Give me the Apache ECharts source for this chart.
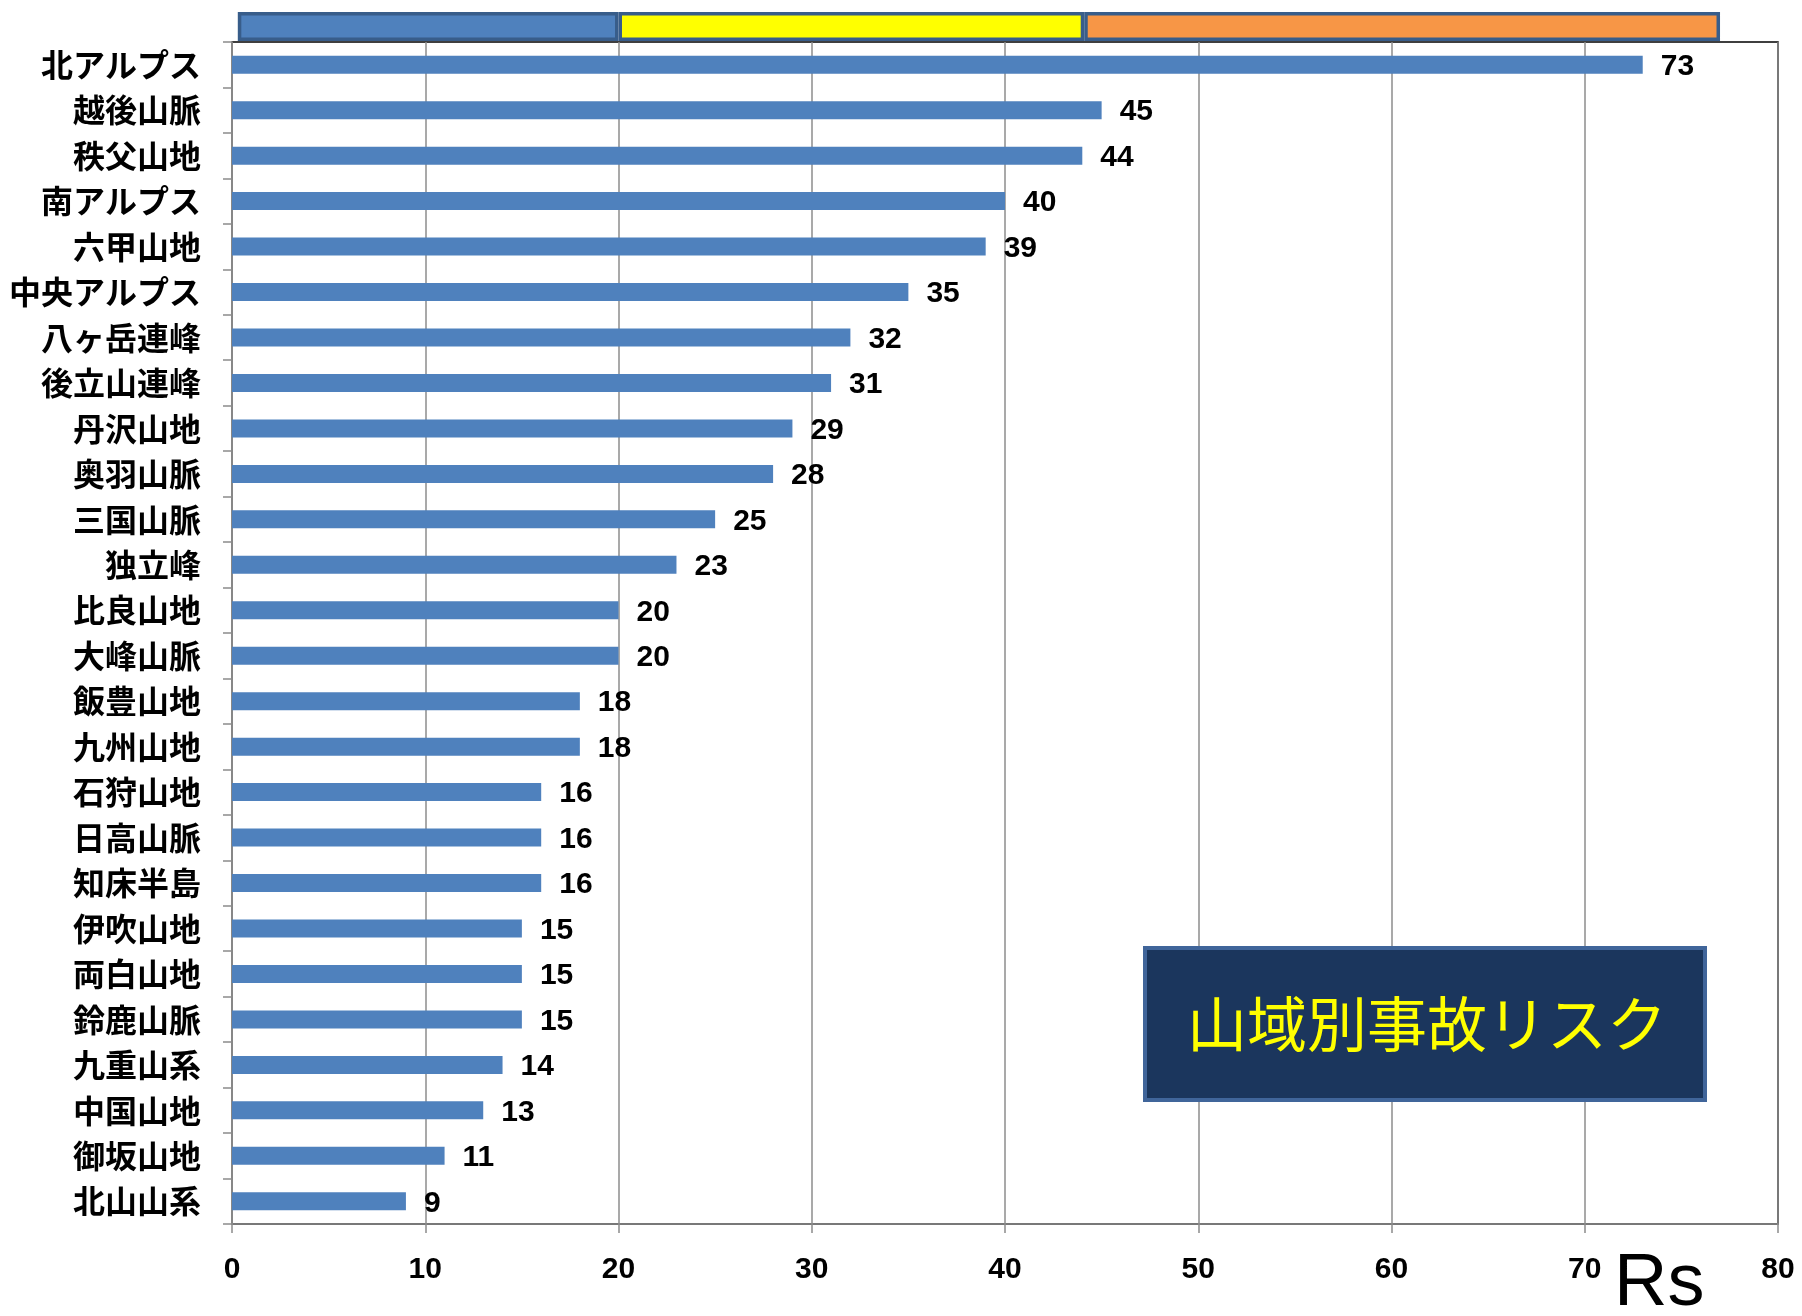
<!DOCTYPE html>
<html>
<head>
<meta charset="utf-8">
<title>山域別事故リスク</title>
<script src="https://cdn.jsdelivr.net/npm/echarts@6/dist/echarts.min.js"></script>
<style>
  html, body { margin: 0; padding: 0; background: #ffffff; }
  #chart { width: 1802px; height: 1316px; }
</style>
</head>
<body>
<div id="chart"></div>
<script>
// Mountain areas, top to bottom
const areas = [
  '北アルプス', '越後山脈', '秩父山地', '南アルプス', '六甲山地', '中央アルプス',
  '八ヶ岳連峰', '後立山連峰', '丹沢山地', '奥羽山脈', '三国山脈', '独立峰',
  '比良山地', '大峰山脈', '飯豊山地', '九州山地', '石狩山地', '日高山脈',
  '知床半島', '伊吹山地', '両白山地', '鈴鹿山脈', '九重山系', '中国山地',
  '御坂山地', '北山山系'
];
// Accident risk score (Rs) per area
const riskValues = [
  73, 45, 44, 40, 39, 35, 32, 31, 29, 28, 25, 23, 20,
  20, 18, 18, 16, 16, 16, 15, 15, 15, 14, 13, 11, 9
];
// Value axis ticks
const axisMin = 0;
const axisMax = 80;
const axisStep = 10;
// Risk band strip above the chart: edges on the Rs scale
const bandEdges = [0.3, 20, 44.1, 77];
const bandColors = ['#4f81bd', '#ffff00', '#f79646'];
const titleText = '山域別事故リスク';
const axisNameText = 'Rs';

const numFont = '"Liberation Sans Narrow", "Arial Narrow", "Liberation Sans", sans-serif';
const cjkFont = '"Noto Sans CJK JP", "Noto Sans CJK SC", sans-serif';

const chart = echarts.init(document.getElementById('chart'), null, { renderer: 'canvas' });

// Stacked strip segments built from the band edges
const bandSeries = [{
  type: 'bar', stack: 'band', xAxisIndex: 1, yAxisIndex: 1,
  data: [bandEdges[0]], barWidth: '100%', silent: true,
  itemStyle: { color: 'transparent' }
}];
for (let i = 0; i < bandColors.length; i++) {
  bandSeries.push({
    type: 'bar', stack: 'band', xAxisIndex: 1, yAxisIndex: 1,
    data: [+(bandEdges[i + 1] - bandEdges[i]).toFixed(3)],
    barWidth: '100%', silent: true,
    itemStyle: { color: bandColors[i], borderColor: '#385d8a', borderWidth: 3.5 }
  });
}

// Caption box geometry
const box = { x: 1145, y: 948, w: 560, h: 152 };

const option = {
  backgroundColor: '#ffffff',
  animation: false,
  grid: [
    { left: 232, right: 24, top: 42, bottom: 92, show: true, borderColor: '#000000', borderWidth: 1.5, backgroundColor: 'transparent' },
    { left: 232, right: 24, top: 12, height: 29 }
  ],
  title: {
    text: axisNameText,
    left: 1609, top: 1243,
    textStyle: { fontFamily: '"Liberation Sans", Arial, sans-serif', fontWeight: 'normal', fontSize: 74, color: '#000000' }
  },
  xAxis: [
    {
      type: 'value', gridIndex: 0, min: axisMin, max: axisMax, interval: axisStep,
      axisLine: { show: true, lineStyle: { color: '#8c8c8c', width: 1.5 } },
      axisTick: { show: true, length: 9, lineStyle: { color: '#8c8c8c', width: 1.5 } },
      splitLine: { show: true, lineStyle: { color: '#8c8c8c', width: 1.5 } },
      axisLabel: { margin: 31, color: '#000000', fontFamily: numFont, fontWeight: 'bold', fontSize: 30 }
    },
    {
      type: 'value', gridIndex: 1, min: axisMin, max: axisMax, show: false
    }
  ],
  yAxis: [
    {
      type: 'category', gridIndex: 0, data: areas, inverse: true,
      axisLine: { show: true, lineStyle: { color: '#8c8c8c', width: 1.5 } },
      axisTick: { show: true, length: 9, lineStyle: { color: '#8c8c8c', width: 1.5 } },
      splitLine: { show: false },
      axisLabel: { margin: 31, color: '#000000', fontFamily: cjkFont, fontWeight: 'bold', fontSize: 32 }
    },
    {
      type: 'category', gridIndex: 1, data: ['band'], show: false
    }
  ],
  series: [
    {
      type: 'bar', xAxisIndex: 0, yAxisIndex: 0,
      data: riskValues, barWidth: 18,
      itemStyle: { color: '#4f81bd' },
      label: {
        show: true, position: 'right', distance: 18, offset: [0, 2],
        color: '#000000', fontFamily: numFont, fontWeight: 'bold', fontSize: 30
      }
    }
  ].concat(bandSeries),
  graphic: [
    {
      type: 'rect', x: box.x, y: box.y, z: 100,
      shape: { width: box.w, height: box.h },
      style: { fill: '#1b365d', stroke: '#40659a', lineWidth: 4 }
    },
    {
      type: 'text', x: box.x + box.w / 2 + 2, y: box.y + box.h / 2, z: 101,
      style: {
        text: titleText, fill: '#ffff00',
        fontFamily: cjkFont, fontWeight: 'normal', fontSize: 60,
        textAlign: 'center', textVerticalAlign: 'middle'
      }
    }
  ]
};

chart.setOption(option);
</script>
</body>
</html>
